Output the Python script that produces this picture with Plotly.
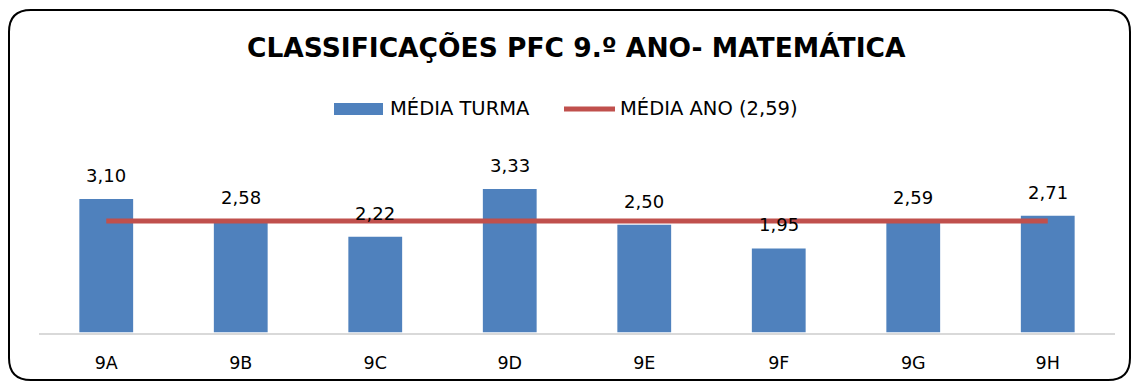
import plotly.graph_objects as go

turmas = ["9A", "9B", "9C", "9D", "9E", "9F", "9G", "9H"]
media_turma = [3.10, 2.58, 2.22, 3.33, 2.50, 1.95, 2.59, 2.71]
media_ano = 2.59

W, H = 1134, 383
BLUE = "#4F81BD"
RED = "#C0504D"
FONT = "DejaVu Sans"


def px(x):
    return x / W


def py(y):
    return 1 - y / H


fig = go.Figure()

fig.add_trace(go.Bar(
    x=turmas, y=media_turma, name="MÉDIA TURMA",
    marker=dict(color=BLUE, line=dict(width=0)),
    width=0.4, showlegend=False,
))

fig.add_trace(go.Scatter(
    x=turmas, y=[media_ano] * len(turmas), name="MÉDIA ANO (2,59)",
    mode="lines", line=dict(color=RED, width=5),
    cliponaxis=False, showlegend=False,
))

# Rounded chart border
r = 22
x0, y0, x1, y1 = 9, 10, 1130, 380
path = (
    f"M {px(x0 + r)},{py(y0)} L {px(x1 - r)},{py(y0)} "
    f"Q {px(x1)},{py(y0)} {px(x1)},{py(y0 + r)} "
    f"L {px(x1)},{py(y1 - r)} Q {px(x1)},{py(y1)} {px(x1 - r)},{py(y1)} "
    f"L {px(x0 + r)},{py(y1)} Q {px(x0)},{py(y1)} {px(x0)},{py(y1 - r)} "
    f"L {px(x0)},{py(y0 + r)} Q {px(x0)},{py(y0)} {px(x0 + r)},{py(y0)} Z"
)
shapes = [dict(type="path", xref="paper", yref="paper", path=path,
               line=dict(color="#000000", width=2), fillcolor="rgba(0,0,0,0)")]

# Legend keys
shapes.append(dict(type="rect", xref="paper", yref="paper",
                   x0=px(334), x1=px(383), y0=py(115), y1=py(103),
                   fillcolor=BLUE, line=dict(width=0)))
shapes.append(dict(type="line", xref="paper", yref="paper",
                   x0=px(564), x1=px(615), y0=py(109), y1=py(109),
                   line=dict(color=RED, width=5)))

annotations = [
    dict(text="<b>CLASSIFICAÇÕES PFC 9.º ANO- MATEMÁTICA</b>", xref="paper", yref="paper",
         x=px(576), y=py(48), xanchor="center", yanchor="middle", showarrow=False,
         font=dict(family=FONT, size=26.5, color="#000000")),
    dict(text="MÉDIA TURMA", xref="paper", yref="paper",
         x=px(388), y=py(108), xanchor="left", yanchor="middle", showarrow=False,
         font=dict(family=FONT, size=19.5, color="#000000")),
    dict(text="MÉDIA ANO (2,59)", xref="paper", yref="paper",
         x=px(618), y=py(108), xanchor="left", yanchor="middle", showarrow=False,
         font=dict(family=FONT, size=19.5, color="#000000")),
]

# Value labels above each bar
for t, v in zip(turmas, media_turma):
    annotations.append(dict(
        text=f"{v:.2f}".replace(".", ","), x=t, y=v, xref="x", yref="y",
        xanchor="center", yanchor="bottom", yshift=11, showarrow=False,
        font=dict(family=FONT, size=18, color="#000000"),
    ))

fig.update_layout(
    width=W, height=H,
    margin=dict(l=0, r=0, t=0, b=0),
    paper_bgcolor="white", plot_bgcolor="white",
    showlegend=False,
    shapes=shapes, annotations=annotations,
    xaxis=dict(domain=[px(39), px(1115)], showgrid=False, ticks="",
               showline=True, linecolor="#D9D9D9", linewidth=2,
               tickfont=dict(family=FONT, size=17.5, color="#000000"),
               ticklabelstandoff=13),
    yaxis=dict(domain=[py(332.5), py(181.7)], range=[0, 3.5], visible=False,
               showgrid=False, zeroline=False),
)

fig.write_html("out.html")
